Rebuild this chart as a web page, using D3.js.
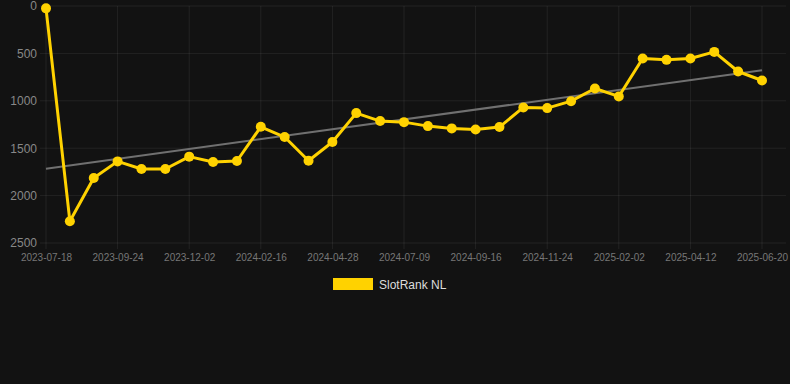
<!DOCTYPE html>
<html><head><meta charset="utf-8">
<script src="https://cdn.jsdelivr.net/npm/d3@7"></script>
<style>
html,body{margin:0;padding:0;background:#121212;}
svg{display:block;}
text{font-family:"Liberation Sans",Arial,Helvetica,sans-serif;}
</style></head>
<body><svg id="c" width="790" height="384"></svg>
<script>
const tickLabels = ["2023-07-18","2023-09-24","2023-12-02","2024-02-16","2024-04-28","2024-07-09","2024-09-16","2024-11-24","2025-02-02","2025-04-12","2025-06-20"];
const rankValues = [25,2270,1814,1639,1719,1719,1589,1645,1635,1274,1382,1632,1435,1130,1214,1225,1267,1291,1302,1277,1070,1077,1004,870,954,554,568,554,484,691,786];
const yTicks = [0,500,1000,1500,2000,2500];
const seriesName = "SlotRank NL";

const svg = d3.select("#c");
const x = d3.scaleLinear().domain([0, rankValues.length - 1]).range([46, 762]);
const y = d3.scaleLinear().domain([0, 2500]).range([6, 243]);

// grid
const grid = svg.append("g");
grid.selectAll("line.h").data(yTicks).join("line")
  .attr("x1", 40).attr("x2", 786)
  .attr("y1", d => y(d)).attr("y2", d => y(d))
  .attr("stroke", "rgba(255,255,255,0.07)").attr("stroke-width", 1);
const tickIdx = tickLabels.map((_, i) => i * 3);
grid.selectAll("line.v").data(tickIdx).join("line")
  .attr("x1", d => x(d)).attr("x2", d => x(d))
  .attr("y1", 6).attr("y2", 249)
  .attr("stroke", "rgba(255,255,255,0.07)").attr("stroke-width", 1);

// y axis labels
const yAxis = d3.axisLeft(y).tickValues(yTicks).tickFormat(d3.format("d")).tickSize(0).tickPadding(0);
const yg = svg.append("g").attr("transform", "translate(37,0)").call(yAxis);
yg.select(".domain").remove();
yg.selectAll("text").attr("fill", "#888").style("font-size", "12px")
  .attr("font-family", "Liberation Sans, Arial, sans-serif");

// x axis labels
const xAxis = d3.axisBottom(x).tickValues(tickIdx).tickFormat((d, i) => tickLabels[i]).tickSize(0).tickPadding(0);
const xg = svg.append("g").attr("transform", "translate(0,254)").call(xAxis);
xg.select(".domain").remove();
xg.selectAll("text").attr("fill", "#777").style("font-size", "10px")
  .attr("font-family", "Liberation Sans, Arial, sans-serif");

// trend line (least squares)
const n = rankValues.length;
const mx = d3.mean(rankValues, (d, i) => i);
const my = d3.mean(rankValues);
let sxy = 0, sxx = 0;
rankValues.forEach((v, i) => { sxy += (i - mx) * (v - my); sxx += (i - mx) * (i - mx); });
const slope = sxy / sxx, icpt = my - slope * mx;
svg.append("line")
  .attr("x1", x(0)).attr("y1", y(icpt))
  .attr("x2", x(n - 1)).attr("y2", y(icpt + slope * (n - 1)))
  .attr("stroke", "#707070").attr("stroke-width", 2);

// series line
const color = "#FFD200";
svg.append("path").datum(rankValues)
  .attr("d", d3.line().x((d, i) => x(i)).y(d => y(d)))
  .attr("fill", "none").attr("stroke", color).attr("stroke-width", 3)
  .attr("stroke-linejoin", "round");
svg.append("g").selectAll("circle").data(rankValues).join("circle")
  .attr("cx", (d, i) => x(i)).attr("cy", d => y(d)).attr("r", 5)
  .attr("fill", color);

// legend
svg.append("rect").attr("x", 333).attr("y", 278).attr("width", 40).attr("height", 12).attr("fill", color);
svg.append("text").attr("x", 379).attr("y", 288.5).text(seriesName)
  .attr("fill", "#dddddd").style("font-size", "12px");
</script></body></html>
